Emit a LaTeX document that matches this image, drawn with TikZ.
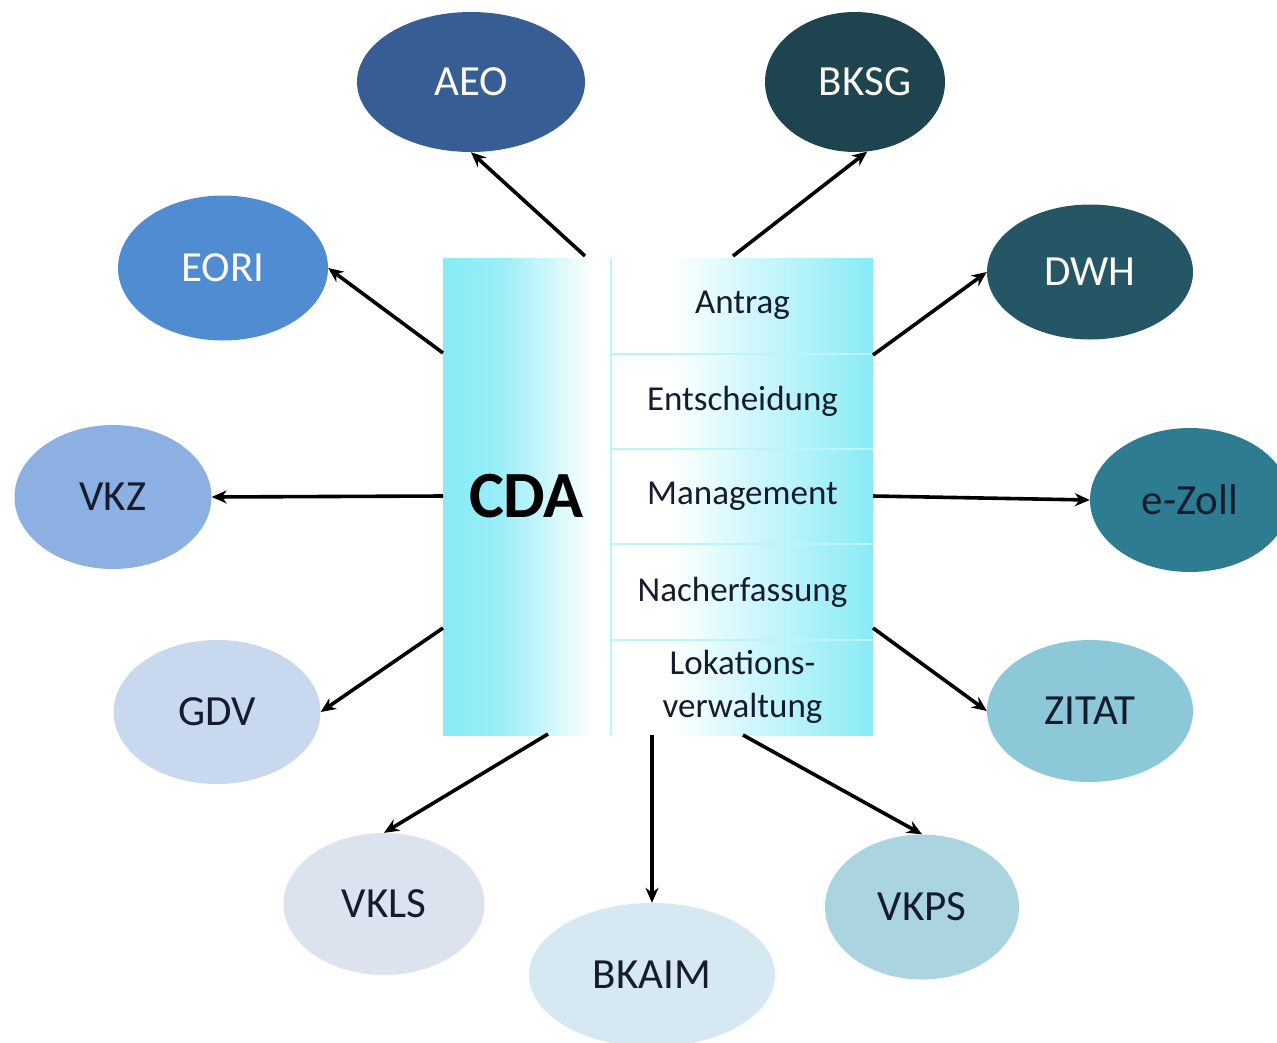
\documentclass[tikz,border=0pt]{standalone}
\usepackage{fontspec}
\setmainfont{Carlito}
\usetikzlibrary{shapes.geometric,arrows.meta}
\definecolor{cdacyan}{RGB}{135,235,245}
\definecolor{txtdark}{RGB}{22,28,45}
\definecolor{txtlight}{RGB}{250,248,240}
\definecolor{cAEO}{RGB}{54,94,148}
\definecolor{cBKSG}{RGB}{30,68,80}
\definecolor{cEORI}{RGB}{80,140,210}
\definecolor{cDWH}{RGB}{36,86,102}
\definecolor{cVKZ}{RGB}{140,176,225}
\definecolor{cEZOLL}{RGB}{46,124,146}
\definecolor{cGDV}{RGB}{200,216,238}
\definecolor{cZITAT}{RGB}{140,200,216}
\definecolor{cVKLS}{RGB}{220,226,238}
\definecolor{cBKAIM}{RGB}{214,232,242}
\definecolor{cVKPS}{RGB}{170,212,224}
\pgfdeclarehorizontalshading{cdashade}{100bp}{color(0bp)=(cdacyan); color(25bp)=(cdacyan); color(42bp)=(cdacyan!85!white); color(70bp)=(white); color(75bp)=(white); color(100bp)=(white)}
\pgfdeclarehorizontalshading{rowshade}{100bp}{color(0bp)=(white); color(25bp)=(white); color(36bp)=(white); color(68bp)=(cdacyan!80!white); color(75bp)=(cdacyan); color(100bp)=(cdacyan)}
\tikzset{
  bubble/.style={ellipse, inner sep=0pt, font=\fontsize{43}{48}\selectfont},
  lighttext/.style={text=txtlight},
  darktext/.style={text=txtdark},
  cdapart/.style={rectangle, inner sep=0pt, minimum width=167pt, minimum height=477pt, shading=cdashade, font=\fontsize{66}{70}\selectfont\bfseries, text=black},
  rowbox/.style={rectangle, inner sep=0pt, minimum width=261pt, minimum height=95.4pt, shading=rowshade, font=\fontsize{35}{43}\selectfont, text=txtdark, align=center},
  sepline/.style={draw=cdacyan!55!white, line width=2pt},
  conn/.style={draw=black, line width=3.6pt, -{Stealth[length=15pt,width=13pt]}}
}
\begin{document}
\begin{tikzpicture}[x=1pt,y=-1pt]
\useasboundingbox[fill=white] (0,0) rectangle (1277,1042);
% central box
\node[cdapart] (cda) at (526.5,496.5) {CDA};
\node[rowbox] (r1) at (742.5,305.7) {\raisebox{-5pt}{Antrag}};
\node[rowbox] (r2) at (742.5,401.1) {\raisebox{-3pt}{Entscheidung}};
\node[rowbox] (r3) at (742.5,496.5) {\raisebox{-3pt}{Management}};
\node[rowbox] (r4) at (742.5,591.9) {\raisebox{-3pt}{Nacherfassung}};
\node[rowbox] (r5) at (742.5,687.3) {Lokations-\\verwaltung};
\draw[sepline] (r1.south west) -- (r1.south east);
\draw[sepline] (r2.south west) -- (r2.south east);
\draw[sepline] (r3.south west) -- (r3.south east);
\draw[sepline] (r4.south west) -- (r4.south east);
\draw[sepline] ([xshift=1pt]cda.north east) -- ([xshift=1pt]cda.south east);
% ellipses
\node[bubble, lighttext, fill=cAEO, minimum width=228pt, minimum height=140pt] (aeo) at (471,82) {AEO};
\node[bubble, lighttext, fill=cBKSG, minimum width=180pt, minimum height=140pt] (bksg) at (855,82) {\hspace{20pt}BKSG};
\node[bubble, lighttext, fill=cEORI, minimum width=210pt, minimum height=145pt] (eori) at (223,268) {EORI};
\node[bubble, lighttext, fill=cDWH, minimum width=206pt, minimum height=135pt] (dwh) at (1090,272) {DWH};
\node[bubble, darktext, fill=cVKZ, minimum width=197pt, minimum height=144pt] (vkz) at (113,497) {VKZ};
\node[bubble, darktext, fill=cEZOLL, minimum width=200pt, minimum height=144pt] (ezoll) at (1190,500) {e-Zoll};
\node[bubble, darktext, fill=cGDV, minimum width=207pt, minimum height=144pt] (gdv) at (217,712) {GDV};
\node[bubble, darktext, fill=cZITAT, minimum width=206pt, minimum height=142pt] (zitat) at (1090,711) {ZITAT};
\node[bubble, darktext, fill=cVKLS, minimum width=201pt, minimum height=142pt] (vkls) at (384,904) {VKLS};
\node[bubble, darktext, fill=cBKAIM, minimum width=246pt, minimum height=144pt] (bkaim) at (652,975) {BKAIM};
\node[bubble, darktext, fill=cVKPS, minimum width=194pt, minimum height=145pt] (vkps) at (922,907) {VKPS};
% connector start points on the box
\coordinate (sAEO) at (585,256);
\coordinate (sBKSG) at (733,256);
\coordinate (sEORI) at (443,353);
\coordinate (sDWH) at (873,355);
\coordinate (sVKZ) at (443,496);
\coordinate (sEZOLL) at (873,496);
\coordinate (sGDV) at (443,628);
\coordinate (sZITAT) at (873,628);
\coordinate (sVKLS) at (548,734);
\coordinate (sBKAIM) at (652,735);
\coordinate (sVKPS) at (743,735);
% connectors
\draw[conn] (sAEO) -- (aeo.south);
\draw[conn] (sBKSG) -- (bksg.-80);
\draw[conn] (sEORI) -- (eori.east);
\draw[conn] (sDWH) -- (dwh.west);
\draw[conn] (sVKZ) -- (vkz.east);
\draw[conn] (sEZOLL) -- (ezoll.west);
\draw[conn] (sGDV) -- (gdv.east);
\draw[conn] (sZITAT) -- (zitat.west);
\draw[conn] (sVKLS) -- (vkls.north);
\draw[conn] (sBKAIM) -- (bkaim.north);
\draw[conn] (sVKPS) -- (vkps.north);
\end{tikzpicture}
\end{document}
